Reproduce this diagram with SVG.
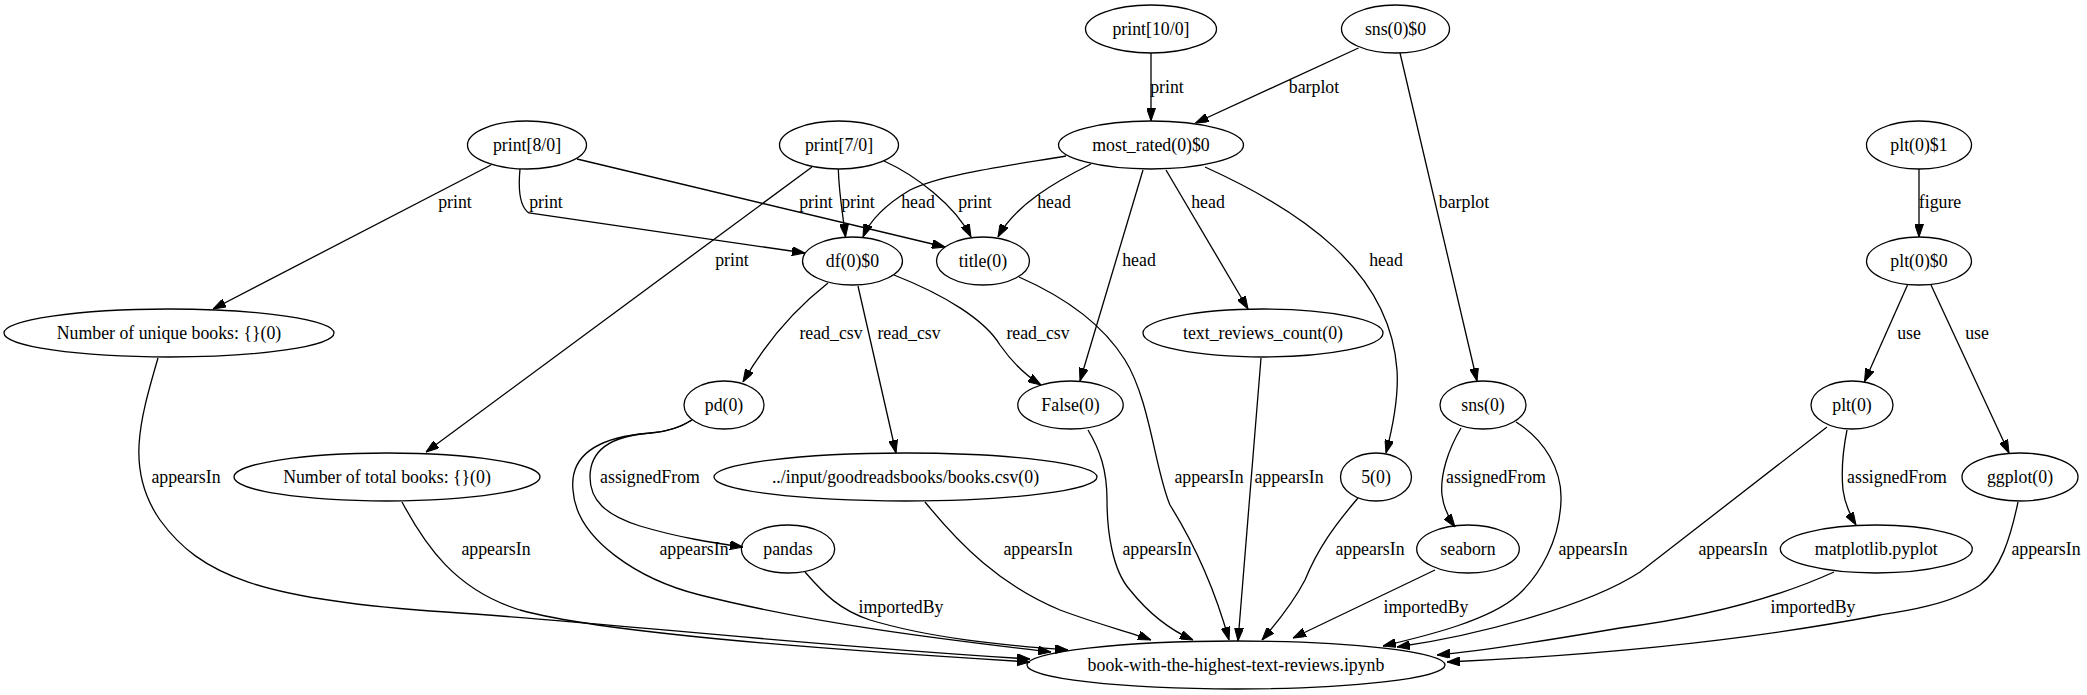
<svg xmlns="http://www.w3.org/2000/svg" width="2087" height="695" viewBox="0 0 2087 695">
<style>
.n ellipse{fill:none;stroke:#000;stroke-width:1.3}
text{font-family:"Liberation Serif","Times New Roman",serif;font-size:17.8px;fill:#000;text-anchor:middle}
.e path{fill:none;stroke:#000;stroke-width:1.3;marker-end:url(#ah)}
</style>
<defs>
<marker id="ah" viewBox="0 0 13 9" refX="13" refY="4.5" markerWidth="13" markerHeight="9" markerUnits="userSpaceOnUse" orient="auto">
<path d="M0,0 L13,4.5 L0,9 z" fill="#000" stroke="#000" stroke-width="1"/>
</marker>
</defs>
<rect width="2087" height="695" fill="#fff"/>
<g id="connectors" class="e">
<path d="M1151,53 L1151,121"/>
<text x="1167" y="93">print</text>
<path d="M1358.5,48 L1195.5,123"/>
<text x="1314" y="93">barplot</text>
<path d="M1400,53 L1477,381"/>
<text x="1464" y="208">barplot</text>
<path d="M491,165 L213,309"/>
<text x="455" y="208">print</text>
<path d="M520,169 C518,190 520,207 529,213 L805,253"/>
<text x="546" y="208">print</text>
<path d="M577,159 L945,247"/>
<text x="816" y="208">print</text>
<path d="M812,167 L426,452"/>
<text x="732" y="266">print</text>
<path d="M838.3,169 C839,195 843,215 845.5,237"/>
<text x="858" y="208">print</text>
<path d="M884,161 C915,175 955,205 971,237"/>
<text x="975" y="208">print</text>
<path d="M1066,156 C1000,167 940,175 910,190 C885,205 870,220 863,237"/>
<text x="918" y="208">head</text>
<path d="M1091,164 C1055,182 1015,205 998,237"/>
<text x="1054" y="208">head</text>
<path d="M1143,170 L1080,381"/>
<text x="1139" y="266">head</text>
<path d="M1166,170 L1248,309"/>
<text x="1208" y="208">head</text>
<path d="M1205,167 C1300,210 1390,270 1397,370 C1399,400 1392,430 1386,453"/>
<text x="1386" y="266">head</text>
<path d="M1919,169 L1919,237"/>
<text x="1940" y="208">figure</text>
<path d="M1907.5,285 L1864.5,381.7"/>
<text x="1909" y="339">use</text>
<path d="M1931,285 L2009,453"/>
<text x="1977" y="339">use</text>
<path d="M828,283 C800,305 770,335 743,382"/>
<text x="831" y="339">read_csv</text>
<path d="M858,286 L896,453"/>
<text x="909" y="339">read_csv</text>
<path d="M894,275 C945,295 985,320 1000,345 C1012,362 1025,375 1041,385"/>
<text x="1038" y="339">read_csv</text>
<path d="M158,358 C140,420 125,470 160,520 C200,575 260,600 446,612 C600,622 800,645 1030,659"/>
<text x="186" y="483">appearsIn</text>
<path d="M402,502 C425,545 455,590 520,610 C600,632 800,648 1030,662"/>
<text x="496" y="555">appearsIn</text>
<path d="M692,420 C680,428 665,432 650,433 C610,436 590,450 590,477 C590,500 605,515 640,526 C680,538 715,543 743,547"/>
<text x="650" y="483">assignedFrom</text>
<path d="M692,420 C675,430 660,433 640,434 C590,440 570,460 573,490 C576,540 640,580 700,595 C820,625 950,640 1051,652"/>
<text x="694" y="555">appearsIn</text>
<path d="M805,572 C825,595 840,610 870,620 C930,638 1000,645 1068,650"/>
<text x="901" y="613">importedBy</text>
<path d="M925,502 C960,545 1000,585 1060,610 C1100,625 1130,632 1151,640"/>
<text x="1038" y="555">appearsIn</text>
<path d="M1088,430 C1100,450 1107,470 1107,500 C1107,530 1112,570 1130,590 C1150,615 1170,630 1193,640"/>
<text x="1157" y="555">appearsIn</text>
<path d="M1019,277 C1060,295 1100,320 1125,360 C1150,400 1155,470 1170,505 C1195,545 1215,590 1229,640"/>
<text x="1209" y="483">appearsIn</text>
<path d="M1261,358 L1238,641"/>
<text x="1289" y="483">appearsIn</text>
<path d="M1358,498 C1335,525 1318,548 1305,580 C1292,605 1275,625 1262,640"/>
<text x="1370" y="555">appearsIn</text>
<path d="M1461,428 C1448,450 1440,475 1442,495 C1444,510 1450,520 1455,527"/>
<text x="1496" y="483">assignedFrom</text>
<path d="M1516,422 C1545,440 1562,470 1561,500 C1560,540 1540,575 1518,595 C1490,620 1430,635 1383,646"/>
<text x="1593" y="555">appearsIn</text>
<path d="M1435,570 L1293,638"/>
<text x="1426" y="613">importedBy</text>
<path d="M1827,427 L1640,572 C1590,605 1480,635 1397,647"/>
<text x="1733" y="555">appearsIn</text>
<path d="M1847,430 C1843,450 1841,470 1843,490 C1845,505 1850,515 1856,525"/>
<text x="1897" y="483">assignedFrom</text>
<path d="M1834,572 C1790,592 1720,615 1620,628 C1550,640 1490,650 1437,655"/>
<text x="1813" y="613">importedBy</text>
<path d="M2018,502 C2010,540 2000,570 1980,585 C1950,605 1900,612 1880,615 C1750,640 1600,655 1447,662"/>
<text x="2046" y="555">appearsIn</text>
</g>
<g id="n_print10" class="n"><ellipse cx="1151" cy="29" rx="65.5" ry="24"/><text x="1151" y="35">print[10/0]</text></g>
<g id="n_sns0_0" class="n"><ellipse cx="1395.5" cy="29" rx="54" ry="24"/><text x="1395.5" y="35">sns(0)$0</text></g>
<g id="n_print8" class="n"><ellipse cx="527" cy="145" rx="59.5" ry="24"/><text x="527" y="151">print[8/0]</text></g>
<g id="n_print7" class="n"><ellipse cx="839" cy="145" rx="59.5" ry="24"/><text x="839" y="151">print[7/0]</text></g>
<g id="n_most_rated" class="n"><ellipse cx="1151" cy="145" rx="92.5" ry="24"/><text x="1151" y="151">most_rated(0)$0</text></g>
<g id="n_plt1" class="n"><ellipse cx="1919" cy="145" rx="52.5" ry="24"/><text x="1919" y="151">plt(0)$1</text></g>
<g id="n_df" class="n"><ellipse cx="852.5" cy="261" rx="50" ry="24"/><text x="852.5" y="267">df(0)$0</text></g>
<g id="n_title" class="n"><ellipse cx="983" cy="261" rx="46.5" ry="24"/><text x="983" y="267">title(0)</text></g>
<g id="n_plt0" class="n"><ellipse cx="1919" cy="261" rx="52.5" ry="24"/><text x="1919" y="267">plt(0)$0</text></g>
<g id="n_numunique" class="n"><ellipse cx="169" cy="333" rx="165" ry="24"/><text x="169" y="339">Number of unique books: {}(0)</text></g>
<g id="n_textreviews" class="n"><ellipse cx="1263" cy="333" rx="120" ry="24"/><text x="1263" y="339">text_reviews_count(0)</text></g>
<g id="n_pd" class="n"><ellipse cx="724" cy="405" rx="40" ry="24"/><text x="724" y="411">pd(0)</text></g>
<g id="n_false" class="n"><ellipse cx="1070.5" cy="405" rx="52.7" ry="24"/><text x="1070.5" y="411">False(0)</text></g>
<g id="n_sns" class="n"><ellipse cx="1483" cy="405" rx="43" ry="24"/><text x="1483" y="411">sns(0)</text></g>
<g id="n_plt" class="n"><ellipse cx="1852" cy="405" rx="41" ry="24"/><text x="1852" y="411">plt(0)</text></g>
<g id="n_numtotal" class="n"><ellipse cx="387" cy="477" rx="153" ry="24"/><text x="387" y="483">Number of total books: {}(0)</text></g>
<g id="n_input" class="n"><ellipse cx="905.5" cy="477" rx="191.5" ry="24"/><text x="905.5" y="483">../input/goodreadsbooks/books.csv(0)</text></g>
<g id="n_five" class="n"><ellipse cx="1376" cy="477" rx="35.5" ry="24"/><text x="1376" y="483">5(0)</text></g>
<g id="n_ggplot" class="n"><ellipse cx="2020" cy="477" rx="58" ry="24"/><text x="2020" y="483">ggplot(0)</text></g>
<g id="n_pandas" class="n"><ellipse cx="788" cy="549" rx="46.7" ry="24"/><text x="788" y="555">pandas</text></g>
<g id="n_seaborn" class="n"><ellipse cx="1468" cy="549" rx="51.3" ry="24"/><text x="1468" y="555">seaborn</text></g>
<g id="n_matplotlib" class="n"><ellipse cx="1876.3" cy="549" rx="96" ry="24"/><text x="1876.3" y="555">matplotlib.pyplot</text></g>
<g id="n_book" class="n"><ellipse cx="1236" cy="665" rx="209" ry="24"/><text x="1236" y="671">book-with-the-highest-text-reviews.ipynb</text></g>
</svg>
